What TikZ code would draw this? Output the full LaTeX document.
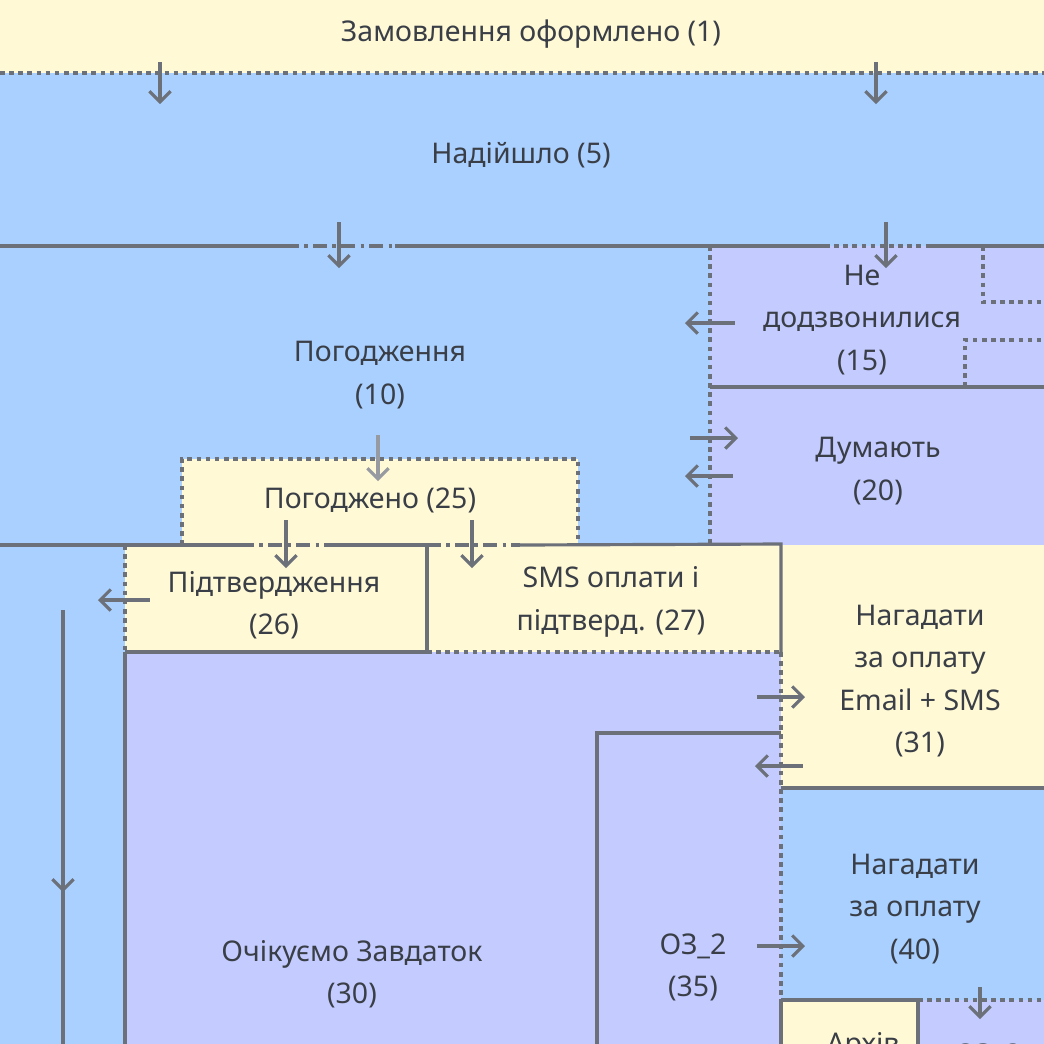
\documentclass[tikz,border=0pt]{standalone}
\usepackage{fontspec}
\setmainfont{Noto Sans}
\usetikzlibrary{arrows.meta}
\definecolor{yel}{HTML}{FFF9D6}
\definecolor{blu}{HTML}{AAD0FF}
\definecolor{lav}{HTML}{C4CCFF}
\definecolor{edge}{HTML}{6B7079}
\definecolor{ink}{HTML}{3A3F47}
\tikzset{
  lbl/.style={text=ink,font=\fontsize{8.1}{12}\selectfont,align=center},
  wall/.style={draw=edge,line width=0.9pt},
  dot/.style={wall,dash pattern=on 1.3pt off 1.3pt},
  dashdot/.style={wall,dash pattern=on 4pt off 1.5pt on 1pt off 1.5pt},
  flow/.style={draw=edge,line width=0.9pt,-{Straight Barb[length=3pt,width=6pt]}},
}
\begin{document}
\begin{tikzpicture}[x=0.01cm,y=-0.01cm]
\useasboundingbox (0,0) rectangle (1044,1044);
\clip (0,0) rectangle (1044,1044);
% background regions
\fill[yel] (0,0) rectangle (1044,73);
\fill[blu] (0,73) rectangle (1044,246);
\fill[blu] (0,246) rectangle (710,545);
\fill[lav] (710,246) rectangle (1044,545);
\fill[yel] (182,459) rectangle (578,545);
\fill[blu] (0,545) rectangle (125,1044);
\fill[yel] (125,545) rectangle (781,652);
\fill[yel] (781,545) rectangle (1044,788);
\fill[lav] (125,652) rectangle (781,1044);
\fill[blu] (781,788) rectangle (1044,1000);
\fill[yel] (781,1000) rectangle (918,1044);
\fill[lav] (918,1000) rectangle (1044,1044);
% borders
\draw[dot] (0,73) -- (1044,73);
\draw[wall] (0,246) -- (285,246);
\draw[dashdot] (285,246) -- (395,246);
\draw[wall] (395,246) -- (825,246);
\draw[dot] (825,246) -- (930,246);
\draw[wall] (930,246) -- (1044,246);
\draw[dot] (710,246) -- (710,545);
\draw[wall] (710,387) -- (1044,387);
\draw[dot] (983,246) -- (983,302) -- (1044,302);
\draw[dot] (965,387) -- (965,340) -- (1044,340);
\draw[dot] (182,545) -- (182,459) -- (578,459) -- (578,545);
\draw[wall] (0,545) -- (240,545);
\draw[dashdot] (240,545) -- (330,545);
\draw[wall] (330,545) -- (427,545) -- (427,652) -- (125,652);
\draw[dashdot] (427,545) -- (520,545);
\draw[wall] (520,545) -- (781,544) -- (781,652);
\draw[dot] (125,545) -- (125,652);
\draw[dot] (427,652) -- (781,652);
\draw[wall] (125,652) -- (125,1044);
\draw[dot] (781,652) -- (781,1000);
\draw[wall] (781,788) -- (1044,788);
\draw[wall] (597,1044) -- (597,733) -- (781,733);
\draw[wall] (781,1000) -- (918,1000) -- (918,1044);
\draw[wall] (781,1000) -- (781,1044);
\draw[dot] (918,1000) -- (1044,1000);
% labels
\node[lbl] (ordered) at (531,34) {Замовлення оформлено (1)};
\node[lbl] (arrived) at (521,155) {Надійшло (5)};
\node[lbl] (agree) at (380,375) {Погодження\\(10)};
\node[lbl] (nocall) at (862,320) {Не\\додзвонилися\\(15)};
\node[lbl] (think) at (878,471) {Думають\\(20)};
\node[lbl] (agreed) at (370,500) {Погоджено (25)};
\node[lbl] (confirm) at (274,605) {Підтвердження\\(26)};
\node[lbl] (sms) at (611,602) {SMS оплати і\\підтверд. (27)};
\node[lbl] (remind) at (920,681) {Нагадати\\за оплату\\Email + SMS\\(31)};
\node[lbl] (deposit) at (352,974) {Очікуємо Завдаток\\(30)};
\node[lbl] (oz) at (693,967) {ОЗ\_2\\(35)};
\node[lbl] (remindb) at (915,909) {Нагадати\\за оплату\\(40)};
\node[lbl] (archive) at (863,1046) {Архів};
\node[lbl] (ozc) at (988,1056) {ОЗ\_3};
% arrows
\draw[flow] (160,62) -- (160,104);
\draw[flow] (876,62) -- (876,104);
\draw[flow] (339,222) -- (339,268);
\draw[flow] (886,222) -- (886,268);
\draw[flow] (735,323) -- (685,323);
\draw[flow] (690,438) -- (738,438);
\draw[flow] (733,476) -- (685,476);
\draw[flow,draw=edge!70] (378,435) -- (378,481);
\draw[flow] (286,520) -- (286,568);
\draw[flow] (472,520) -- (472,568);
\draw[flow] (150,600) -- (98,600);
\draw[flow] (63,610) -- (63,892);
\draw[wall] (63,890) -- (63,1044);
\draw[flow] (757,697) -- (805,697);
\draw[flow] (803,766) -- (755,766);
\draw[flow] (757,946) -- (805,946);
\draw[flow] (980,987) -- (980,1019);
\end{tikzpicture}
\end{document}
